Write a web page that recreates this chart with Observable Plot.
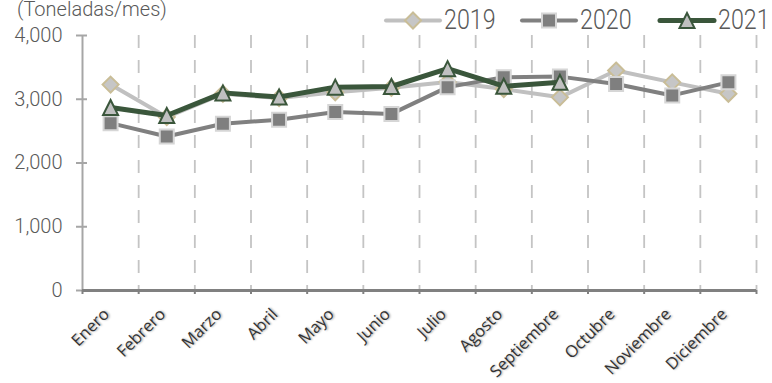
<!DOCTYPE html>
<html><head><meta charset="utf-8">
<script src="https://cdn.jsdelivr.net/npm/d3@7"></script>
<script src="https://cdn.jsdelivr.net/npm/@observablehq/plot@0.6"></script>
<style>
body{margin:0;background:#fff;}
#wrap{position:relative;width:772px;height:383px;overflow:hidden;}
#chart{position:absolute;left:0;top:0;}
#overlay{position:absolute;left:0;top:0;pointer-events:none;}
.xlab text{text-shadow:1px 1px 2px rgba(0,0,0,0.35);}
</style></head><body>
<div id="wrap"><div id="chart"></div><svg id="overlay" width="772" height="40"></svg></div>
<script>
const months = ["Enero","Febrero","Marzo","Abril","Mayo","Junio","Julio","Agosto","Septiembre","Octubre","Noviembre","Diciembre"];
const years = ["2019","2020","2021"];
const v2019 = [3230,2720,3085,3020,3110,3180,3270,3160,3030,3450,3265,3085];
const v2020 = [2625,2415,2615,2680,2800,2770,3190,3345,3355,3240,3060,3265];
const v2021 = [2870,2745,3100,3035,3190,3200,3480,3205,3265];
const yTicks = [0,1000,2000,3000,4000];
const titleText = "(Toneladas/mes)";

const colors = {
  "2019": {line:"#c0c0c0", fill:"#c6c6c6", mstroke:"#c9bd97", width:4},
  "2020": {line:"#808080", fill:"#7f7f7f", mstroke:"#d6d6d6", width:4},
  "2021": {line:"#3a563b", fill:"#c0c0c0", mstroke:"#3a563b", width:5}
};
const diamondSym = {draw(ctx, size){const r=Math.sqrt(size/Math.PI);ctx.moveTo(0,-r);ctx.lineTo(r,0);ctx.lineTo(0,r);ctx.lineTo(-r,0);ctx.closePath();}};
const squareSym = {draw(ctx, size){const r=Math.sqrt(size/Math.PI);ctx.rect(-r,-r,2*r,2*r);}};
const triSym = {draw(ctx, size){const r=Math.sqrt(size/Math.PI);ctx.moveTo(0,-r);ctx.lineTo(r,r);ctx.lineTo(-r,r);ctx.closePath();}};
const symbols = {"2019":diamondSym,"2020":squareSym,"2021":triSym};
const sizes = {"2019":8,"2020":7,"2021":7.5};

const seriesVals = [v2019, v2020, v2021];
const rows = years.map((y,k)=>seriesVals[k].map((v,i)=>({year:y,i,value:v})));
const boundaries = d3.range(-0.5, months.length, 1);

const marks = [
  Plot.ruleX(boundaries.slice(1), {y1:4000, y2:0, stroke:"#c4c4c4", strokeWidth:1.8, strokeDasharray:"13,12"}),
  Plot.ruleX([-0.5], {y1:0, y2:4000, stroke:"#a6a6a6", strokeWidth:2}),
  Plot.ruleY(yTicks, {x1:-0.5, x2:-0.5, insetLeft:-6, insetRight:-5, stroke:"#a6a6a6", strokeWidth:2}),
  Plot.text(yTicks, {x:-0.5, y:d=>d, text:d3.format(","), textAnchor:"end", dx:-20, fontSize:20, fontFamily:"Roboto", fontWeight:300, fill:"#595959"}),
  Plot.ruleY([0], {x1:-0.5, x2:11.5, stroke:"#808080", strokeWidth:3}),
  Plot.ruleX(boundaries, {y1:0, y2:0, insetTop:0, insetBottom:-4, stroke:"#808080", strokeWidth:2}),
  Plot.text(months, {x:(d,i)=>i, y:0, text:d=>d, rotate:-45, textAnchor:"end", lineAnchor:"middle", dx:-4, dy:21, fontSize:16.5, fontFamily:"Open Sans", fill:"#333333", className:"xlab"})
];
years.forEach((y,k)=>{
  const c = colors[y];
  marks.push(Plot.line(rows[k], {x:"i", y:"value", stroke:c.line, strokeWidth:c.width, strokeLinejoin:"round", strokeLinecap:"round"}));
  marks.push(Plot.dot(rows[k], {x:"i", y:"value", symbol:symbols[y], r:sizes[y], fill:c.fill, stroke:c.mstroke, strokeWidth:2, fillOpacity:1}));
});

const chart = Plot.plot({
  width:772, height:383,
  marginLeft:82, marginRight:16, marginTop:35, marginBottom:93,
  x:{domain:[-0.5,11.5], axis:null},
  y:{domain:[0,4000], axis:null},
  style:{background:"transparent", overflow:"visible"},
  marks
});
document.getElementById("chart").appendChild(chart);

// title and legend
const ov = d3.select("#overlay");
ov.append("text").attr("x",17).attr("y",16).attr("font-family","Roboto").attr("font-weight",300)
  .attr("font-size",20).attr("fill","#595959").text(titleText);
const legX = [386, 522, 660];
years.forEach((y,k)=>{
  const c = colors[y], x0 = legX[k], cy = 20.5;
  const g = ov.append("g");
  g.append("line").attr("x1",x0).attr("x2",x0+54).attr("y1",cy).attr("y2",cy)
    .attr("stroke",c.line).attr("stroke-width",c.width).attr("stroke-linecap","round");
  g.append("path").attr("transform",`translate(${x0+27},${cy})`)
    .attr("d", d3.symbol(symbols[y], Math.PI*sizes[y]*sizes[y])())
    .attr("fill",c.fill).attr("stroke",c.mstroke).attr("stroke-width",2);
  g.append("text").attr("transform",`translate(${x0+58},29) scale(0.83,1)`)
    .attr("font-family","Roboto").attr("font-weight",300)
    .attr("font-size",28).attr("fill","#595959").text(y);
});
</script>
</body></html>
